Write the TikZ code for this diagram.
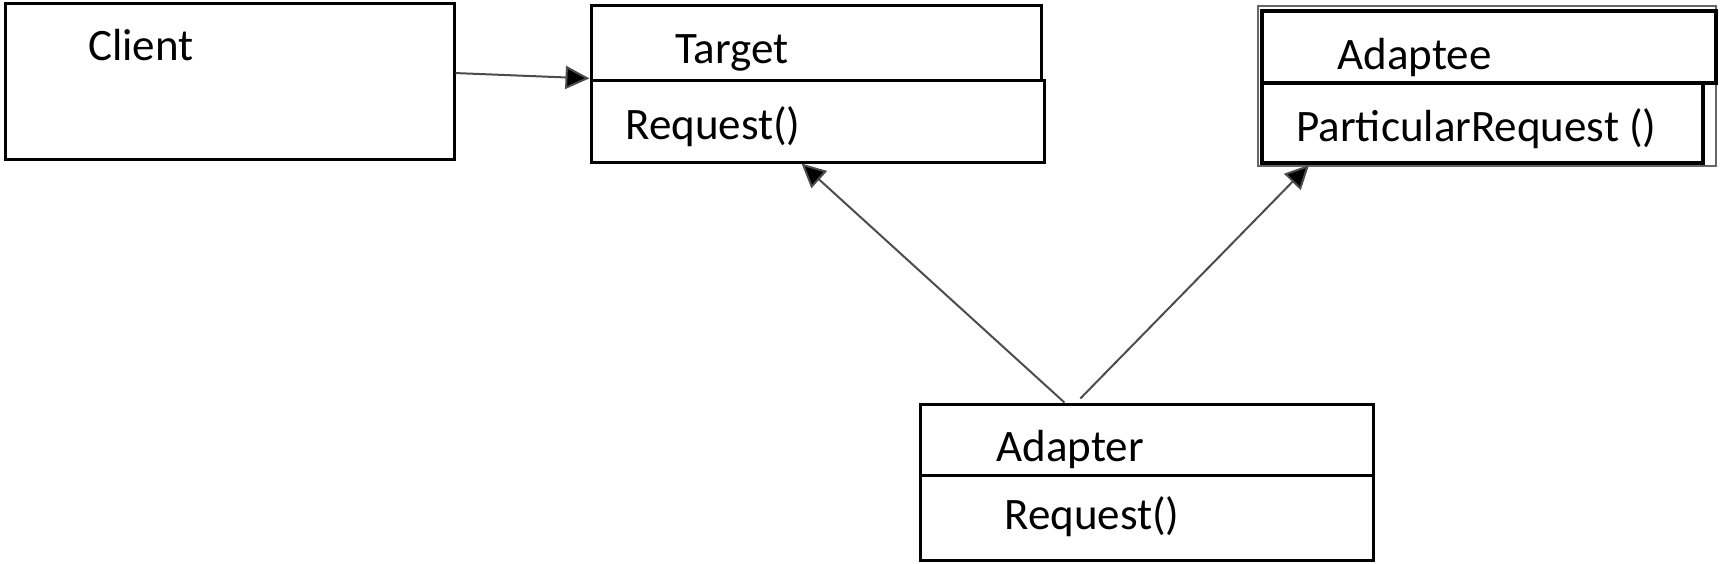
\documentclass[tikz,border=0pt]{standalone}
\usepackage{fontspec}
\setmainfont{Carlito}
\usetikzlibrary{arrows.meta,fit,calc}
\tikzset{
  box/.style={draw=black, line width=1.5pt, inner sep=0pt, rectangle},
  lbl/.style={anchor=base west, inner sep=0pt, font=\fontsize{22.5pt}{27pt}\selectfont},
  conn/.style={draw=black!70, line width=1pt, -{Triangle[length=12pt,width=11.5pt,fill=black]}},
}
\begin{document}
\begin{tikzpicture}[x=0.5pt,y=-0.5pt]
\useasboundingbox (0,0) rectangle (1725,563);
% Client
\node[box, fit={(5,3) (454,159)}] (client) {};
\node[lbl] (clientt) at (88,60) {Client};
% Target
\node[box, fit={(591,5) (1041,80)}] (targettop) {};
\node[box, fit={(591,80) (1044,162)}] (targetbot) {};
\node[lbl] (targett) at (675,63) {Target};
\node[lbl] (targetm) at (625,139) {Request()};
% Adaptee
\node[draw=black!60, line width=1.2pt, inner sep=0pt, fit={(1258,6) (1716,166)}] (adapteeshadow) {};
\node[box, line width=1.8pt, fit={(1262,11) (1716,83)}] (adapteetop) {};
\node[box, line width=1.8pt, fit={(1262,83) (1703,163)}] (adapteebot) {};
\node[lbl] (adapteet) at (1337,69) {Adaptee};
\node[lbl] (adapteem) at (1296,141) {ParticularRequest ()};
% Adapter
\node[box, fit={(920,404) (1373,475)}] (adaptertop) {};
\node[box, fit={(920,475) (1373,560)}] (adapterbot) {};
\node[lbl] (adaptert) at (996,461) {Adapter};
\node[lbl] (adapterm) at (1004,529) {Request()};
% connectors
\coordinate (c1) at ($(client.north east)!0.45!(client.south east)$);
\coordinate (c2) at ($(targettop.north west)!0.96!(targettop.south west)$);
\draw[conn] (c1) -- (c2);
\coordinate (a1) at ($(adaptertop.north west)!0.32!(adaptertop.north east)$);
\coordinate (a2) at ($(adaptertop.north west)!0.355!(adaptertop.north east)$);
\coordinate (t1) at ($(targetbot.south west)!0.465!(targetbot.south east)$);
\coordinate (p1) at ($(adapteebot.south west)!0.11!(adapteebot.south east)$);
\draw[conn] (a1) -- (t1);
\draw[conn] ($(a2)+(0,-4)$) -- (p1);
\end{tikzpicture}
\end{document}
